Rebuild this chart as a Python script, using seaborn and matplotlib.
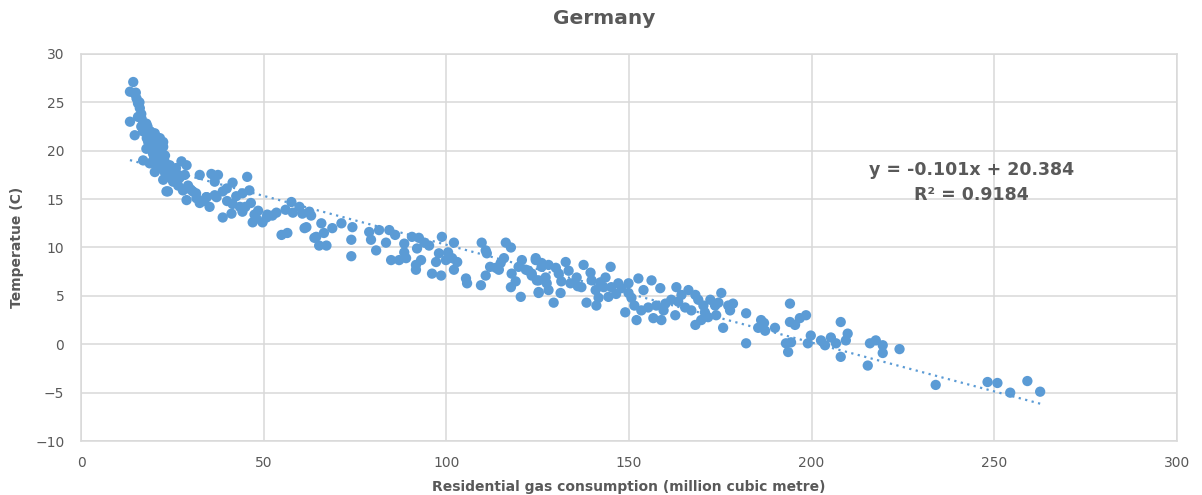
import numpy as np
import pandas as pd
import seaborn as sns
import matplotlib
matplotlib.use("Agg")
import matplotlib.pyplot as plt

# ───── data ─────────────────────────────────────────────────────────────────
# residential gas consumption (million cubic metre)
gas = [
    14.3, 13.4, 14.7, 15.2, 15.6, 16.1, 13.4, 15.6, 16.6, 17.9,
    14.7, 17.0, 18.8, 20.2, 21.6, 22.5, 18.4, 17.9, 19.3, 21.1,
    22.5, 19.7, 21.6, 17.0, 18.8, 20.7, 22.9, 24.3, 27.5, 28.9,
    20.2, 22.9, 25.2, 26.6, 28.4, 22.5, 25.2, 26.6, 29.3, 23.8,
    27.9, 30.6, 32.5, 35.7, 37.5, 36.6, 28.9, 31.6, 34.3, 36.6,
    38.8, 23.4, 15.0, 16.0, 17.5, 19.0, 20.5, 21.0, 19.5, 20.0,
    23.0, 18.0, 16.5, 20.8, 21.5, 24.0, 26.0, 27.0, 45.5, 32.5,
    34.4, 37.1, 39.9, 41.5, 44.2, 46.1, 35.2, 38.8, 41.2, 44.2,
    47.0, 49.7, 48.0, 50.8, 52.4, 54.9, 56.5, 57.6, 59.8, 61.7,
    64.4, 41.5, 43.5, 46.5, 48.5, 51.0, 42.5, 53.5,
    60.6, 62.5, 61.2, 63.9, 65.2, 67.2, 65.8, 68.8, 71.3, 74.3,
    74.0, 74.0, 78.9, 81.6, 84.4, 79.4, 80.8, 83.5, 84.9, 87.1,
    89.0, 88.5, 90.6, 92.5, 92.0, 88.5, 95.3, 98.8, 102.1, 91.7,
    93.1, 91.7, 96.1, 98.6, 98.0, 97.2, 99.9, 101.6, 102.1, 105.4,
    105.7, 109.5, 110.8, 109.7, 110.8, 111.1, 116.3, 117.7, 113.6, 114.9,
    115.8, 114.4, 117.9, 119.8, 120.7, 121.8, 123.4, 124.5, 125.3, 126.1,
    127.2, 117.7, 120.4, 125.3,
    124.5, 126.1, 128.0, 130.0, 130.8, 132.7, 123.4, 124.8, 127.5, 128.0,
    125.3, 129.4, 131.3, 134.0, 135.7, 137.6, 139.5, 137.0, 138.4, 141.1,
    140.9, 139.8, 142.2, 143.6, 145.0, 143.1, 145.2, 147.1, 149.9, 144.4,
    141.7, 149.0, 152.1, 149.9, 150.7, 152.6, 156.2, 154.0, 153.4, 155.3,
    157.5, 158.6, 156.7, 158.9, 162.7, 160.0, 161.6, 163.0, 164.4, 166.3,
    168.2, 165.4, 167.1, 169.0, 170.4, 172.3, 173.6, 175.3, 177.2, 175.8,
    168.2, 169.8, 171.7, 173.9, 177.7, 182.1, 182.1, 186.2, 185.4, 187.3,
    190.0,
    194.1, 194.1, 195.5, 196.8, 198.5, 193.0, 194.4, 193.6, 199.0, 199.8,
    208.0, 202.6, 203.7, 205.3, 206.7, 209.4, 209.9, 208.0, 215.4, 216.0,
    217.6, 219.5, 219.5, 224.1, 234.0, 248.2, 250.9, 254.4, 259.1, 262.6,
    16.5, 18.2, 19.5, 21.8, 20.5, 22.0, 23.5, 25.5, 30.0, 31.5,
    33.5, 40.0, 45.0, 47.5, 56.0, 58.0, 63.0, 66.5, 86.0, 94.0,
    100.5, 103.0, 112.0, 119.0, 122.5, 131.5, 133.5, 136.0, 146.5, 148.0,
    151.5, 159.5, 163.5, 170.8, 174.5, 178.5, 187.0,
]
# temperature (C)
temp = [
    27.1, 26.1, 25.9, 25.4, 24.9, 24.4, 23.0, 23.5, 23.3, 22.8,
    21.6, 22.0, 21.6, 21.8, 21.3, 20.9, 20.9, 20.2, 20.4, 20.1,
    20.4, 19.7, 19.7, 19.0, 18.7, 19.0, 18.9, 18.5, 18.9, 18.5,
    17.8, 17.8, 17.8, 17.5, 17.5, 17.0, 16.8, 16.4, 16.4, 15.8,
    15.9, 15.8, 17.5, 17.6, 17.5, 16.8, 14.9, 15.1, 15.2, 15.4,
    15.8, 15.8, 26.0, 25.0, 22.3, 22.0, 21.0, 20.6, 20.9, 19.3,
    19.5, 21.3, 22.5, 18.4, 18.2, 17.3, 18.2, 17.2, 17.3, 14.6,
    15.2, 15.2, 16.1, 16.7, 15.6, 15.9, 14.2, 13.1, 13.5, 13.7,
    12.6, 12.6, 13.0, 13.1, 13.3, 11.3, 11.5, 14.7, 14.2, 12.1,
    11.1, 14.5, 14.2, 14.6, 13.8, 13.4, 15.3, 13.6,
    13.5, 13.7, 12.0, 11.0, 10.2, 10.2, 12.5, 12.0, 12.5, 12.1,
    10.8, 9.1, 11.6, 11.8, 11.8, 10.8, 9.7, 10.5, 8.7, 8.7,
    8.9, 10.4, 11.1, 11.0, 9.9, 9.5, 10.2, 11.1, 10.5, 8.2,
    8.7, 7.7, 7.3, 7.1, 9.4, 8.5, 8.7, 8.9, 7.7, 6.8,
    6.3, 6.1, 7.1, 10.5, 9.7, 9.4, 10.5, 10.0, 7.9, 8.4,
    8.9, 7.7, 7.3, 8.0, 8.7, 7.7, 7.1, 8.7, 6.6, 8.0,
    6.9, 5.9, 4.9, 5.3,
    8.9, 8.4, 8.2, 7.9, 7.3, 8.5, 7.3, 6.6, 6.3, 5.6,
    5.4, 4.3, 5.3, 6.3, 6.9, 8.2, 7.4, 5.9, 4.3, 4.0,
    5.6, 6.6, 6.4, 6.9, 8.0, 5.9, 5.9, 6.3, 6.3, 4.9,
    4.8, 3.3, 2.5, 5.3, 4.8, 6.8, 6.6, 5.6, 3.5, 3.8,
    4.0, 5.8, 2.7, 2.5, 3.0, 4.2, 4.6, 5.9, 5.1, 5.6,
    5.1, 3.8, 3.5, 4.6, 4.0, 4.6, 4.0, 5.3, 4.0, 1.7,
    2.0, 2.5, 2.8, 3.0, 3.5, 3.2, 0.1, 2.5, 1.7, 1.4,
    1.7,
    4.2, 2.3, 2.0, 2.7, 3.0, 0.1, 0.2, -0.8, 0.1, 0.9,
    2.3, 0.4, -0.1, 0.7, 0.1, 0.4, 1.1, -1.3, -2.2, 0.1,
    0.4, -0.1, -0.9, -0.5, -4.2, -3.9, -4.0, -5.0, -3.8, -4.9,
    23.8, 22.5, 21.5, 20.8, 20.0, 19.0, 18.0, 17.3, 16.0, 15.6,
    14.8, 14.8, 14.2, 13.4, 13.9, 13.6, 13.3, 11.5, 11.3, 10.5,
    9.5, 8.5, 8.0, 6.5, 7.6, 6.5, 7.6, 6.0, 5.2, 5.8,
    4.0, 3.5, 4.4, 3.3, 4.3, 4.2, 2.2,
]

# linear trendline as printed on the chart
slope, intercept, r2 = -0.101, 20.384, 0.9184

x_ticks = [0, 50, 100, 150, 200, 250, 300]
y_ticks = [-10, -5, 0, 5, 10, 15, 20, 25, 30]

# ───── plot ────────────────────────────────────────────────────────────────
blue = "#5B9BD5"
grey = "#595959"
grid = "#D9D9D9"

sns.set_style("whitegrid", {"grid.color": grid, "axes.edgecolor": grid})
plt.rcParams["font.family"] = ["DejaVu Sans"]

df = pd.DataFrame({"gas": gas, "temp": temp})

fig = plt.figure(figsize=(12.02, 4.95), dpi=100)
ax = fig.add_axes([0.0674, 0.109, 0.9116, 0.782])

sns.scatterplot(data=df, x="gas", y="temp", color=blue, s=55,
                edgecolor="none", ax=ax, zorder=3)

# trendline across the data range
trend = pd.DataFrame({"gas": [df.gas.min(), df.gas.max()]})
trend["temp"] = slope * trend.gas + intercept
sns.lineplot(data=trend, x="gas", y="temp", color=blue, lw=1.6,
             linestyle=(0, (1, 2)), ax=ax, zorder=4)

ax.set_xlim(0, 300)
ax.set_ylim(-10, 30)
ax.set_xticks(x_ticks)
ax.set_yticks(y_ticks)
ax.grid(True, color=grid, linewidth=1.1)
ax.tick_params(length=0, labelsize=10, labelcolor=grey)
ax.tick_params(axis="y", pad=12)
ax.tick_params(axis="x", pad=11)
for sp in ax.spines.values():
    sp.set_color(grid)
    sp.set_linewidth(1.1)

ax.set_xlabel("Residential gas consumption (million cubic metre)",
              fontsize=10, fontweight="bold", color=grey, labelpad=7)
ax.set_ylabel("Temperatue (C)", fontsize=10, fontweight="bold",
              color=grey, labelpad=8)

fig.text(0.503, 0.962, "Germany", ha="center", va="center",
         fontsize=14.5, fontweight="bold", color=grey)

ax.text(0.813, 0.700, f"y = {slope}x + {intercept}", transform=ax.transAxes,
        ha="center", va="center", fontsize=12.5, fontweight="bold", color=grey)
ax.text(0.813, 0.636, f"R² = {r2}", transform=ax.transAxes,
        ha="center", va="center", fontsize=12.5, fontweight="bold", color=grey)

fig.savefig("out.png", dpi=100)
plt.close(fig)
